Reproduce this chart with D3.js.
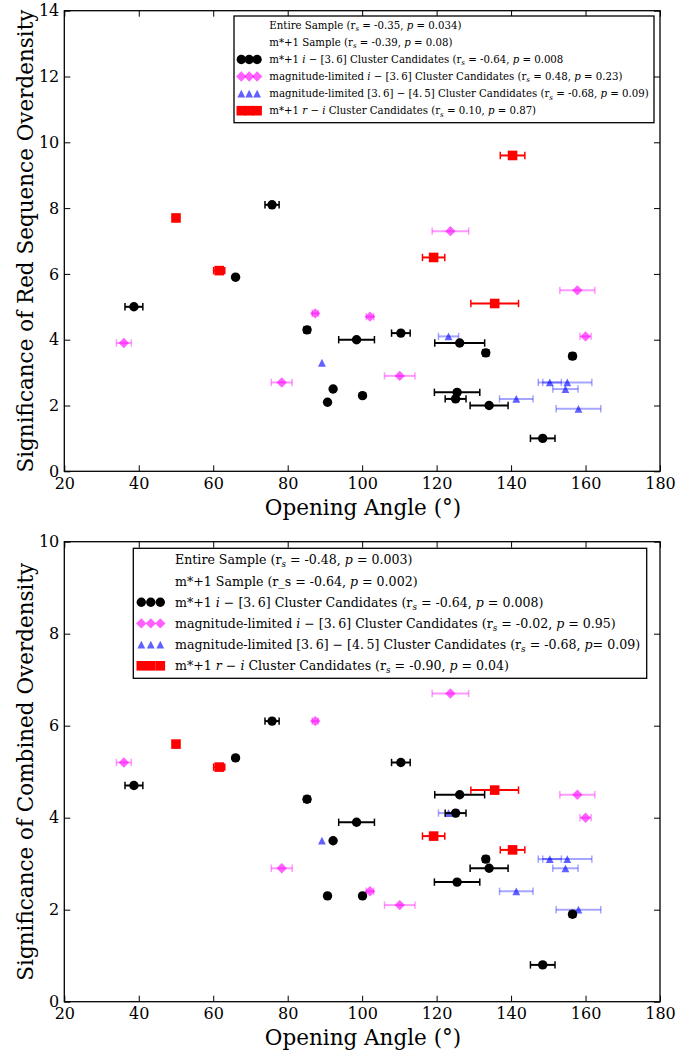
<!DOCTYPE html>
<html>
<head>
<meta charset="utf-8">
<script src="https://cdn.jsdelivr.net/npm/d3@7"></script>
<style>
  body { margin: 0; background: #fff; }
  svg text { font-family: "DejaVu Serif", "Liberation Serif", serif; fill: #000; }
</style>
</head>
<body>
<svg id="fig" width="694" height="1051"></svg>
<script>
// ---- axis ticks ----
const xTicks = [20, 40, 60, 80, 100, 120, 140, 160, 180];
const yTicksRedSeq = [0, 2, 4, 6, 8, 10, 12, 14];
const yTicksCombined = [0, 2, 4, 6, 8, 10];

// ---- m*+1 i-[3.6] cluster candidates ----
const angleBlack    = [75.8, 66.0, 38.7, 85.2, 98.5, 92.2, 90.7, 100.1, 110.4, 126.2, 133.2, 156.5, 125.5, 125.1, 134.1, 148.5];
const angleErrBlack = [1.9, 0, 2.4, 0.8, 4.8, 0, 0, 0, 2.5, 6.7, 0.8, 0.8, 6.1, 2.8, 5.1, 3.3];
const redSeqBlack   = [8.1, 5.9, 5.0, 4.3, 4.0, 2.5, 2.1, 2.3, 4.2, 3.9, 3.6, 3.5, 2.4, 2.2, 2.0, 1.0];
const combBlack     = [6.1, 5.3, 4.7, 4.4, 3.9, 3.5, 2.3, 2.3, 5.2, 4.5, 3.1, 1.9, 2.6, 4.1, 2.9, 0.8];

// ---- magnitude-limited i-[3.6] cluster candidates ----
const anglePink    = [87.4, 36.0, 78.4, 123.7, 157.8, 102.1, 160.0, 110.1];
const angleErrPink = [0.8, 2.0, 2.8, 4.9, 4.7, 1.0, 1.5, 4.1];
const redSeqPink   = [4.8, 3.9, 2.7, 7.3, 5.5, 4.7, 4.1, 2.9];
const combPink     = [6.1, 5.2, 2.9, 6.7, 4.5, 2.4, 4.0, 2.1];

// ---- magnitude-limited [3.6]-[4.5] cluster candidates ----
const angleBlue    = [89.2, 123.2, 150.4, 155.1, 154.6, 141.4, 158.1];
const angleErrBlue = [0, 2.7, 3.1, 6.6, 3.4, 4.5, 6.0];
const redSeqBlue   = [3.3, 4.1, 2.7, 2.7, 2.5, 2.2, 1.9];
const combBlue     = [3.5, 4.1, 3.1, 3.1, 2.9, 2.4, 2.0];

// ---- m*+1 r-i cluster candidates ----
const angleRed    = [50.0, 61.6, 140.4, 119.2, 135.6];
const angleErrRed = [0, 1.5, 3.3, 3.0, 6.4];
const redSeqRed   = [7.7, 6.1, 9.6, 6.5, 5.1];
const combRed     = [5.6, 5.1, 3.3, 3.6, 4.6];

// ---- legend labels ($..$ = italic, _{..} = italic subscript) ----
const legendRedSeq = [
  "Entire Sample (r_{s} = -0.35, $p$ = 0.034)",
  "m*+1 Sample (r_{s} = -0.39, $p$ = 0.08)",
  "m*+1 $i$ \u2212 [3.\u20096] Cluster Candidates (r_{s} = -0.64, $p$ = 0.008",
  "magnitude-limited $i$ \u2212 [3.\u20096] Cluster Candidates (r_{s} = 0.48, $p$ = 0.23)",
  "magnitude-limited [3.\u20096] \u2212 [4.\u20095] Cluster Candidates (r_{s} = -0.68, $p$ = 0.09)",
  "m*+1 $r$ \u2212 $i$ Cluster Candidates (r_{s} = 0.10, $p$ = 0.87)"
];
const legendCombined = [
  "Entire Sample (r_{s} = -0.48, $p$ = 0.003)",
  "m*+1 Sample (r_s = -0.64, $p$ = 0.002)",
  "m*+1 $i$ \u2212 [3.\u20096] Cluster Candidates (r_{s} = -0.64, $p$ = 0.008)",
  "magnitude-limited $i$ \u2212 [3.\u20096] Cluster Candidates (r_{s} = -0.02, $p$ = 0.95)",
  "magnitude-limited [3.\u20096] \u2212 [4.\u20095] Cluster Candidates (r_{s} = -0.68, $p$= 0.09)",
  "m*+1 $r$ \u2212 $i$ Cluster Candidates (r_{s} = -0.90, $p$ = 0.04)"
];
const legendMarkers = [null, null, "black", "pink", "blue", "red"];

// ---- drawing ----
const svg = d3.select("#fig");

const styles = {
  black: { fill: "#000", fillOpacity: 1, bar: "#000", barOpacity: 1, barWidth: 2 },
  pink:  { fill: "#ff00ff", fillOpacity: 0.62, bar: "#ff00ff", barOpacity: 0.4, barWidth: 2 },
  blue:  { fill: "#0000ff", fillOpacity: 0.62, bar: "#0000ff", barOpacity: 0.35, barWidth: 2 },
  red:   { fill: "#ff0000", fillOpacity: 1, bar: "#ff0000", barOpacity: 1, barWidth: 2 }
};

function drawMarker(g, kind, cx, cy) {
  const s = styles[kind];
  let m;
  if (kind === "black") {
    m = g.append("circle").attr("cx", cx).attr("cy", cy).attr("r", 4.7);
  } else if (kind === "pink") {
    const h = 5.2;
    m = g.append("path").attr("d", `M${cx},${cy - h}L${cx + h},${cy}L${cx},${cy + h}L${cx - h},${cy}Z`);
  } else if (kind === "blue") {
    const h = 3.9;
    m = g.append("path").attr("d", `M${cx},${cy - h}L${cx + h},${cy + h}L${cx - h},${cy + h}Z`);
  } else {
    const h = 4.8;
    m = g.append("rect").attr("x", cx - h).attr("y", cy - h).attr("width", 2 * h).attr("height", 2 * h);
  }
  m.attr("fill", s.fill).attr("fill-opacity", s.fillOpacity);
}

function drawSeries(g, x, y, kind, angles, errs, values) {
  const s = styles[kind];
  const bars = g.append("g").attr("stroke", s.bar).attr("stroke-opacity", s.barOpacity);
  angles.forEach((a, i) => {
    const e = errs[i];
    if (!e) return;
    const x0 = x(a - e), x1 = x(a + e), yy = y(values[i]);
    bars.append("line").attr("x1", x0).attr("x2", x1).attr("y1", yy).attr("y2", yy)
      .attr("stroke-width", s.barWidth);
    [x0, x1].forEach(xc => bars.append("line")
      .attr("x1", xc).attr("x2", xc).attr("y1", yy - 3.7).attr("y2", yy + 3.7)
      .attr("stroke-width", 1.5));
  });
  const marks = g.append("g");
  angles.forEach((a, i) => drawMarker(marks, kind, x(a), y(values[i])));
}

function richText(g, px, py, size, label) {
  const t = g.append("text").attr("x", px).attr("y", py).attr("font-size", size);
  const parts = label.split(/(\$[^$]*\$|_\{[^}]*\})/).filter(p => p.length);
  let shift = 0;
  parts.forEach(p => {
    const ts = t.append("tspan");
    if (p.startsWith("$")) {
      ts.attr("font-style", "italic").text(p.slice(1, -1));
    } else if (p.startsWith("_{")) {
      ts.attr("font-style", "italic").attr("font-size", size * 0.7).attr("dy", size * 0.22).text(p.slice(2, -1));
      shift = size * 0.22;
      return;
    } else {
      ts.text(p);
    }
    if (shift) { ts.attr("dy", -shift); shift = 0; }
  });
}

function panel(opts) {
  const g = svg.append("g");
  const x = d3.scaleLinear().domain([20, 180]).range([64.3, 660]);
  const y = d3.scaleLinear().domain(opts.yDomain).range([opts.bottom, opts.top]);
  const tick = 6;

  // axes with inward ticks on all four sides
  g.append("g").attr("transform", `translate(0,${opts.bottom})`)
    .call(d3.axisBottom(x).tickValues(xTicks).tickSizeInner(-tick).tickSizeOuter(0).tickPadding(6).tickFormat(d3.format("d")))
    .call(a => a.selectAll("text").attr("font-size", 16).attr("font-family", null));
  g.append("g").attr("transform", `translate(0,${opts.top})`)
    .call(d3.axisTop(x).tickValues(xTicks).tickSizeInner(-tick).tickSizeOuter(0).tickFormat(""));
  g.append("g").attr("transform", `translate(64.3,0)`)
    .call(d3.axisLeft(y).tickValues(opts.yTicks).tickSizeInner(-tick).tickSizeOuter(0).tickPadding(5).tickFormat(d3.format("d")))
    .call(a => a.selectAll("text").attr("font-size", 16).attr("font-family", null));
  g.append("g").attr("transform", `translate(660,0)`)
    .call(d3.axisRight(y).tickValues(opts.yTicks).tickSizeInner(-tick).tickSizeOuter(0).tickFormat(""));
  g.selectAll(".domain").remove();
  g.selectAll(".tick line").attr("stroke", "#000").attr("stroke-width", 1);

  g.append("rect").attr("x", 64.3).attr("y", opts.top)
    .attr("width", 660 - 64.3).attr("height", opts.bottom - opts.top)
    .attr("fill", "none").attr("stroke", "#000").attr("stroke-width", 1.3);

  // data
  const data = opts.data;
  drawSeries(g, x, y, "pink", anglePink, angleErrPink, data.pink);
  drawSeries(g, x, y, "blue", angleBlue, angleErrBlue, data.blue);
  drawSeries(g, x, y, "red", angleRed, angleErrRed, data.red);
  drawSeries(g, x, y, "black", angleBlack, angleErrBlack, data.black);

  // axis titles
  g.append("text").attr("x", 363).attr("y", opts.bottom + 43.5)
    .attr("text-anchor", "middle").attr("font-size", 21.5).text("Opening Angle (\u00b0)");
  g.append("text").attr("transform", `translate(33,${(opts.top + opts.bottom) / 2}) rotate(-90)`)
    .attr("text-anchor", "middle").attr("font-size", 21.5).text(opts.yTitle);

  // legend
  const L = opts.legend;
  const lg = g.append("g");
  lg.append("rect").attr("x", L.x).attr("y", L.y).attr("width", L.w).attr("height", L.h)
    .attr("fill", "#fff").attr("stroke", "#000").attr("stroke-width", 1.3);
  opts.labels.forEach((lab, i) => {
    const cy = L.firstRow + i * L.step;
    const kind = legendMarkers[i];
    if (kind) L.markerX.forEach(mx => drawMarker(lg, kind, mx, cy));
    richText(lg, L.textX, cy + L.size * 0.36, L.size, lab);
  });
}

panel({
  top: 10.7, bottom: 471.3, yDomain: [0, 14], yTicks: yTicksRedSeq,
  yTitle: "Significance of Red Sequence Overdensity",
  data: { black: redSeqBlack, pink: redSeqPink, blue: redSeqBlue, red: redSeqRed },
  labels: legendRedSeq,
  legend: { x: 234, y: 16, w: 420, h: 106.7, firstRow: 25.3, step: 17.08, textX: 269.3, size: 10.2,
            markerX: [241.3, 249.2, 257.1] }
});

panel({
  top: 541.7, bottom: 1001.7, yDomain: [0, 10], yTicks: yTicksCombined,
  yTitle: "Significance of Combined Overdensity",
  data: { black: combBlack, pink: combPink, blue: combBlue, red: combRed },
  labels: legendCombined,
  legend: { x: 133.3, y: 548.3, w: 513.4, h: 130, firstRow: 559.8, step: 21.2, textX: 175, size: 12.6,
            markerX: [141.3, 150.8, 160.3] }
});
</script>
</body>
</html>
